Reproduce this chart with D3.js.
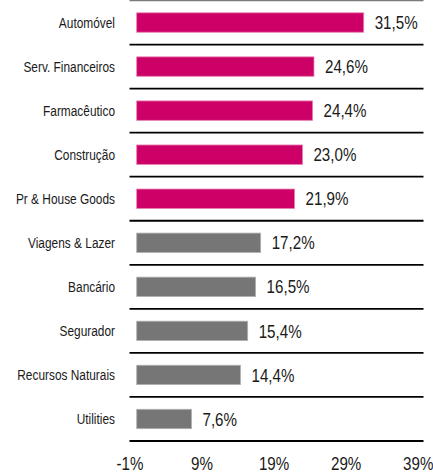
<!DOCTYPE html>
<html>
<head>
<meta charset="utf-8">
<script src="https://cdn.jsdelivr.net/npm/d3@7"></script>
<style>
  body { margin: 0; background: #fff; }
  text { font-family: "Liberation Sans", Arial, sans-serif; fill: #1a1a1a; }
</style>
</head>
<body>
<div id="chart"></div>
<script>
// dados
const setores = ["Automóvel", "Serv. Financeiros", "Farmacêutico", "Construção", "Pr & House Goods",
  "Viagens & Lazer", "Bancário", "Segurador", "Recursos Naturais", "Utilities"]
const valores = [31.5, 24.6, 24.4, 23.0, 21.9, 17.2, 16.5, 15.4, 14.4, 7.6]
const destaque = [true, true, true, true, true, false, false, false, false, false]
const ticks = [-1, 9, 19, 29, 39]

const width = 433, height = 474
const margin = {top: 0.5, right: 9.5, bottom: 33, left: 129.5}
const estreito = 0.82 // simula Arial Narrow

const svg = d3.select("#chart")
  .append("svg")
    .attr("width", width)
    .attr("height", height)

const x = d3.scaleLinear()
  .domain([-1, 39.8])
  .range([margin.left, width - margin.right])

const y = d3.scaleBand()
  .domain(setores)
  .range([margin.top, height - margin.bottom])
  .paddingInner(0)

const barH = y.bandwidth() * 0.44

// linhas separadoras
svg.append("g")
  .selectAll("line")
  .data(d3.range(setores.length + 1))
  .enter()
  .append("line")
    .attr("x1", x(-1))
    .attr("x2", x.range()[1])
    .attr("y1", i => y.range()[0] + i * y.step())
    .attr("y2", i => y.range()[0] + i * y.step())
    .attr("stroke", i => i == 0 ? "#7a7a7a" : "#000")
    .attr("stroke-width", i => i == 0 ? 1.5 : 1.8)

// barras
svg.append("g")
  .selectAll("rect")
  .data(setores)
  .enter()
  .append("rect")
    .attr("x", x(0))
    .attr("y", d => y(d) + (y.bandwidth() - barH) / 2)
    .attr("width", (d, i) => x(valores[i]) - x(0))
    .attr("height", barH)
    .attr("fill", (d, i) => destaque[i] ? "#cc0066" : "#767676")
    .attr("stroke", (d, i) => destaque[i] ? "#e87ab0" : "#b0b0b0")
    .attr("stroke-width", 0.8)

// nomes dos setores
svg.append("g")
  .selectAll("text")
  .data(setores)
  .enter()
  .append("text")
    .attr("transform", d => "translate(115," + (y(d) + y.bandwidth() / 2) + ") scale(" + estreito + ",1)")
    .attr("dy", "0.35em")
    .attr("text-anchor", "end")
    .style("font-size", "14.5px")
    .text(d => d)

// valores
svg.append("g")
  .selectAll("text")
  .data(setores)
  .enter()
  .append("text")
    .attr("transform", (d, i) => "translate(" + (x(valores[i]) + 11) + "," + (y(d) + y.bandwidth() / 2) + ") scale(" + estreito + ",1)")
    .attr("dy", "0.36em")
    .style("font-size", "18.5px")
    .text((d, i) => d3.format(".1f")(valores[i]).replace(".", ",") + "%")

// eixo x
const eixo = svg.append("g")
  .attr("transform", "translate(0," + (height - margin.bottom) + ")")
  .call(d3.axisBottom(x).tickValues(ticks).tickSize(0).tickPadding(0).tickFormat(d => d + "%"))
eixo.select(".domain").remove()
eixo.selectAll(".tick text")
  .attr("y", null)
  .attr("dy", null)
  .attr("transform", "translate(0,29) scale(" + estreito + ",1)")
  .style("font-size", "18.5px")
  .style("fill", "#1a1a1a")
eixo.attr("font-family", null).attr("font-size", null)
</script>
</body>
</html>
